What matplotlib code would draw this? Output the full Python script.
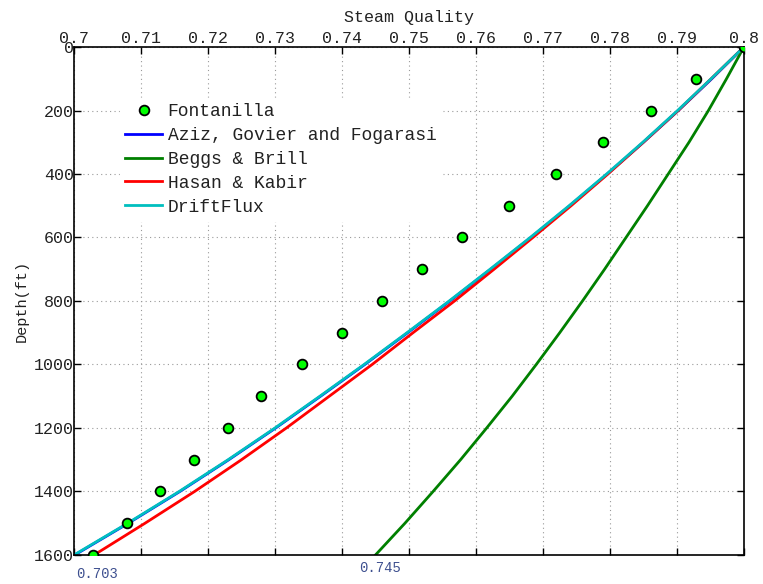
import numpy as np
import matplotlib.pyplot as plt

plt.rcParams['font.family'] = ['Liberation Mono', 'DejaVu Sans Mono']

depth = [0, 100, 200, 300, 400, 500, 600, 700, 800, 900, 1000,
         1100, 1200, 1300, 1400, 1500, 1600]

# measured data
fontanilla = [0.8000, 0.7928, 0.7861, 0.7790, 0.7719, 0.7649, 0.7579, 0.7519,
              0.7460, 0.7400, 0.7340, 0.7279, 0.7230, 0.7179, 0.7128, 0.7079, 0.7028]

# model curves
aziz = [0.8000, 0.7952, 0.7902, 0.7850, 0.7796, 0.7740, 0.7682, 0.7622, 0.7561,
        0.7498, 0.7434, 0.7368, 0.7301, 0.7231, 0.7158, 0.7081, 0.7001]
beggs = [0.8000, 0.7974, 0.7947, 0.7918, 0.7887, 0.7856, 0.7824, 0.7792, 0.7759,
         0.7725, 0.7690, 0.7654, 0.7616, 0.7577, 0.7536, 0.7494, 0.7450]
hasan = [0.8000, 0.7951, 0.7902, 0.7850, 0.7797, 0.7742, 0.7685, 0.7627, 0.7568,
         0.7506, 0.7445, 0.7381, 0.7317, 0.7250, 0.7180, 0.7106, 0.7030]
drift = [0.8000, 0.7951, 0.7901, 0.7849, 0.7795, 0.7739, 0.7681, 0.7621, 0.7560,
         0.7497, 0.7433, 0.7367, 0.7300, 0.7230, 0.7157, 0.7080, 0.7000]

xticks = [0.7, 0.71, 0.72, 0.73, 0.74, 0.75, 0.76, 0.77, 0.78, 0.79, 0.8]
xticklabels = ['0.7', '0.71', '0.72', '0.73', '0.74', '0.75', '0.76', '0.77', '0.78', '0.79', '0.8']
yticks = [0, 200, 400, 600, 800, 1000, 1200, 1400, 1600]

fig = plt.figure(figsize=(7.63, 5.84), dpi=100)
ax = fig.add_axes([0.097, 0.0497, 0.878, 0.8698])

ax.plot(fontanilla, depth, 'o', color='#00ff00', markeredgecolor='black',
        markeredgewidth=1.3, markersize=7, label='Fontanilla', zorder=5)
ax.plot(aziz, depth, color='#0000ff', lw=2, label='Aziz, Govier and Fogarasi')
ax.plot(beggs, depth, color='#008000', lw=2, label='Beggs & Brill')
ax.plot(hasan, depth, color='#ff0000', lw=2, label='Hasan & Kabir')
ax.plot(drift, depth, color='#00bfbf', lw=2, label='DriftFlux')

ax.set_xlim(0.7, 0.8)
ax.set_ylim(1600, 0)
ax.set_xticks(xticks)
ax.set_xticklabels(xticklabels)
ax.set_yticks(yticks)
ax.xaxis.tick_top()
ax.xaxis.set_label_position('top')
ax.tick_params(direction='in', length=5, width=1, labelsize=12, colors='black',
               labelcolor='#222222',
               top=True, bottom=True, left=True, right=True,
               labeltop=True, labelbottom=False)
ax.tick_params(axis='x', pad=1)
ax.tick_params(axis='y', pad=0)
ax.set_xlabel('Steam Quality', fontsize=12, labelpad=6, color='#222222')
ax.set_ylabel('Depth(ft)', fontsize=11, labelpad=4, color='#222222')
for s in ax.spines.values():
    s.set_linewidth(1.2)
ax.grid(True, linestyle=(0, (1, 3)), color='#999999', linewidth=0.8)

leg = ax.legend(loc='upper left', bbox_to_anchor=(0.055, 0.918), fontsize=13,
                frameon=True, handlelength=2.05, handletextpad=0.3,
                labelspacing=0.38, borderpad=0.3)
leg.get_frame().set_edgecolor('white')
leg.get_frame().set_facecolor('white')
leg.get_frame().set_alpha(1)
for t in leg.get_texts():
    t.set_color('#222222')

ax.text(0.7003, 1660, '0.703', fontsize=10, color='#3d4f8f', ha='left', va='center',
        clip_on=False)
ax.text(0.7457, 1640, '0.745', fontsize=10, color='#3d4f8f', ha='center', va='center',
        clip_on=False, bbox=dict(facecolor='white', edgecolor='none', pad=2))

fig.savefig('out.png', dpi=100)
